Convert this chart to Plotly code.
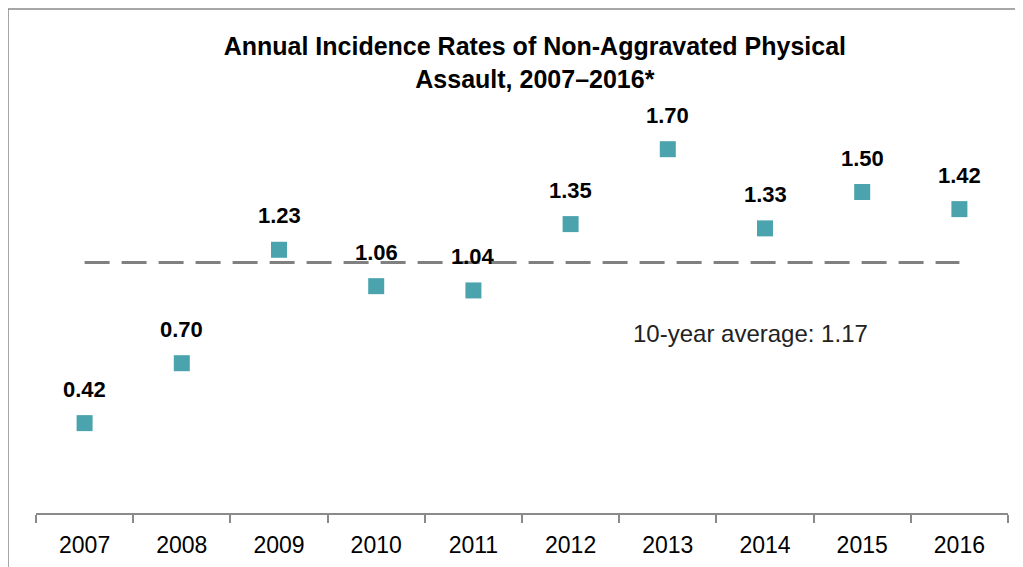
import plotly.graph_objects as go

# data
years = ["2007", "2008", "2009", "2010", "2011", "2012", "2013", "2014", "2015", "2016"]
rates = [0.42, 0.70, 1.23, 1.06, 1.04, 1.35, 1.70, 1.33, 1.50, 1.42]
avg_rate = 1.17

teal = "#4aa3ad"
font_name = "Liberation Sans, Arial, sans-serif"

fig = go.Figure()

# yearly rates
fig.add_trace(go.Scatter(
    x=years, y=rates, mode="markers",
    marker=dict(symbol="square", size=16, color=teal),
    showlegend=False,
))

# 10-year average line
fig.add_trace(go.Scatter(
    x=[years[0], years[-1]], y=[avg_rate, avg_rate], mode="lines",
    line=dict(color="#808080", width=3, dash="25px,12px"),
    hoverinfo="skip", showlegend=False,
))

# value labels (category index for x)
for i, v in enumerate(rates):
    fig.add_annotation(
        x=i, y=v, text=f"<b>{v:.2f}</b>", showarrow=False,
        yshift=34, font=dict(size=22, color="black", family=font_name),
    )

fig.add_annotation(
    x=6.85, y=0.84, text=f"10-year average: {avg_rate:.2f}", showarrow=False,
    font=dict(size=24, color="#222222", family=font_name),
)

# outer chart border
fig.add_shape(
    type="rect", xref="paper", yref="paper",
    x0=-0.0288, x1=1.2, y0=-0.3, y1=1.1776,
    line=dict(color="#8a8a8a", width=1.5), layer="below",
)

fig.update_layout(
    width=1023, height=567,
    paper_bgcolor="white", plot_bgcolor="white",
    margin=dict(l=28, r=23, t=77, b=62),
    title=dict(
        text="<b>Annual Incidence Rates of Non-Aggravated Physical<br>Assault, 2007\u20132016*</b>",
        x=0.515, xanchor="center", yref="container", y=1 - 47 / 567, yanchor="top",
        font=dict(size=25, color="black", family=font_name),
    ),
    xaxis=dict(
        type="category", categoryorder="array", categoryarray=years,
        range=[-0.5, 9.5], tickson="boundaries",
        showline=True, linecolor="#8a8a8a", linewidth=2,
        ticks="outside", ticklen=8, tickcolor="#8a8a8a", tickwidth=2,
        ticklabelstandoff=10,
        showgrid=False, zeroline=False,
        tickfont=dict(size=23, color="black", family=font_name),
    ),
    yaxis=dict(range=[0, 2.0], visible=False, showgrid=False, zeroline=False),
)

fig.write_html("out.html")
